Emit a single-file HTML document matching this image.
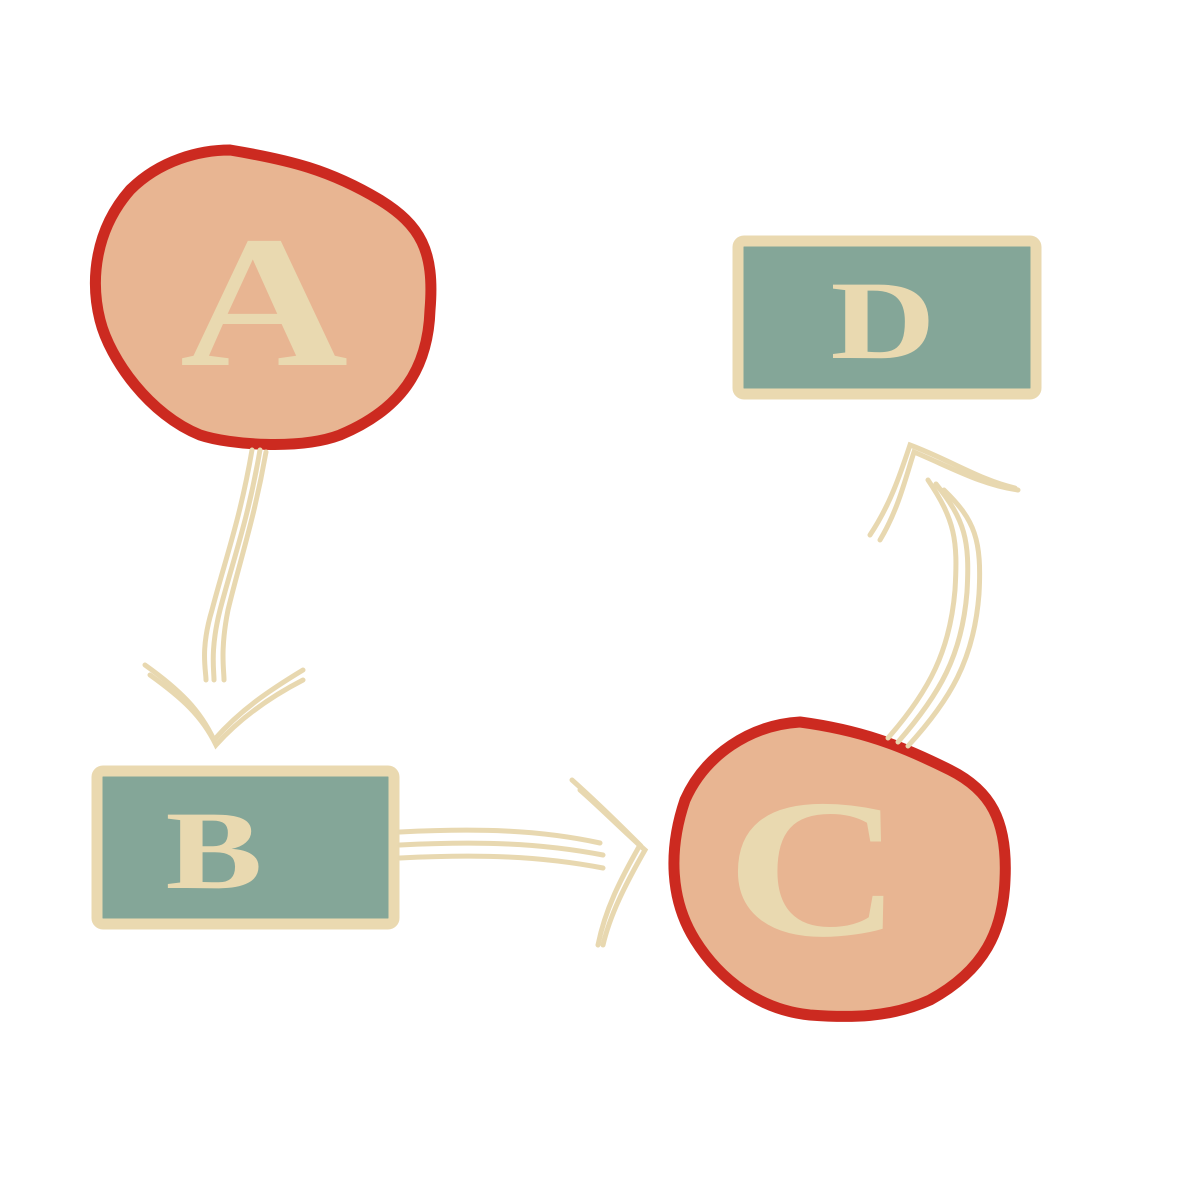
<!DOCTYPE html>
<html><head><meta charset="utf-8"><style>
html,body{margin:0;padding:0;background:#fff;}
svg{display:block;}
text{font-family:"Liberation Serif",serif;font-weight:bold;fill:#e9d9b0;text-anchor:middle;}
</style></head><body>
<svg width="1181" height="1181" viewBox="0 0 1181 1181">
  <g>
    <path d="M230,150 C290,160 330,170 380,200 C420,225 435,250 430,310 C428,370 400,410 340,435 C300,450 230,445 200,435 C150,415 110,360 100,320 C90,280 95,230 130,190 C160,160 200,150 230,150 Z" fill="#e8b592" stroke="#cc2a20" stroke-width="11"/>
    <text transform="translate(264,0) scale(1.24,1)" x="0" y="365" font-size="188">A</text>
  </g>
  <g>
    <rect x="738" y="241" width="298" height="153" rx="6" fill="#84a698" stroke="#ead9b0" stroke-width="11"/>
    <text transform="translate(883,0) scale(1.3,1)" x="0" y="358" font-size="112">D</text>
  </g>
  <g>
    <rect x="97" y="771" width="297" height="153" rx="6" fill="#84a698" stroke="#ead9b0" stroke-width="11"/>
    <text transform="translate(214,0) scale(1.3,1)" x="0" y="888" font-size="112">B</text>
  </g>
  <g>
    <path d="M800,722 C860,730 900,745 950,770 C990,790 1008,820 1005,880 C1003,930 985,970 930,1000 C890,1018 850,1018 810,1015 C760,1010 720,980 695,940 C670,900 668,850 685,800 C705,755 750,725 800,722 Z" fill="#e8b592" stroke="#cc2a20" stroke-width="11"/>
    <text transform="translate(814,0) scale(1.23,1)" x="0" y="935" font-size="198">C</text>
  </g>
  <g fill="none" stroke="#e8d8b0" stroke-width="5" stroke-linecap="round">
    <path d="M252,450 C240,520 225,560 212,610 C200,650 206,670 206,680"/>
    <path d="M260,450 C248,520 233,560 220,610 C210,650 214,670 214,680"/>
    <path d="M266,452 C254,520 240,560 228,610 C220,650 224,670 224,680"/>
    <path d="M145,665 C180,690 200,710 214,740 C240,710 270,690 303,670"/>
    <path d="M150,675 C182,698 202,716 216,745 C242,716 272,696 303,680"/>
  </g>
  <g fill="none" stroke="#e8d8b0" stroke-width="5" stroke-linecap="round">
    <path d="M400,832 C480,828 540,830 600,843"/>
    <path d="M400,845 C480,841 540,843 603,855"/>
    <path d="M400,858 C480,854 540,856 603,868"/>
    <path d="M572,780 C600,805 620,825 640,845 C620,880 605,910 598,945"/>
    <path d="M580,790 C605,812 622,830 645,850 C625,885 610,915 603,945"/>
  </g>
  <g fill="none" stroke="#e8d8b0" stroke-width="5" stroke-linecap="round">
    <path d="M888,738 C930,690 950,650 955,590 C958,540 955,520 928,480"/>
    <path d="M898,742 C940,694 962,655 967,592 C970,540 965,520 936,484"/>
    <path d="M908,746 C950,700 974,660 979,594 C982,540 975,520 944,490"/>
    <path d="M870,535 C890,505 900,475 910,445 C950,460 980,480 1015,488"/>
    <path d="M880,540 C898,510 905,480 914,452 C952,468 982,485 1018,490"/>
  </g>
</svg>
</body></html>
